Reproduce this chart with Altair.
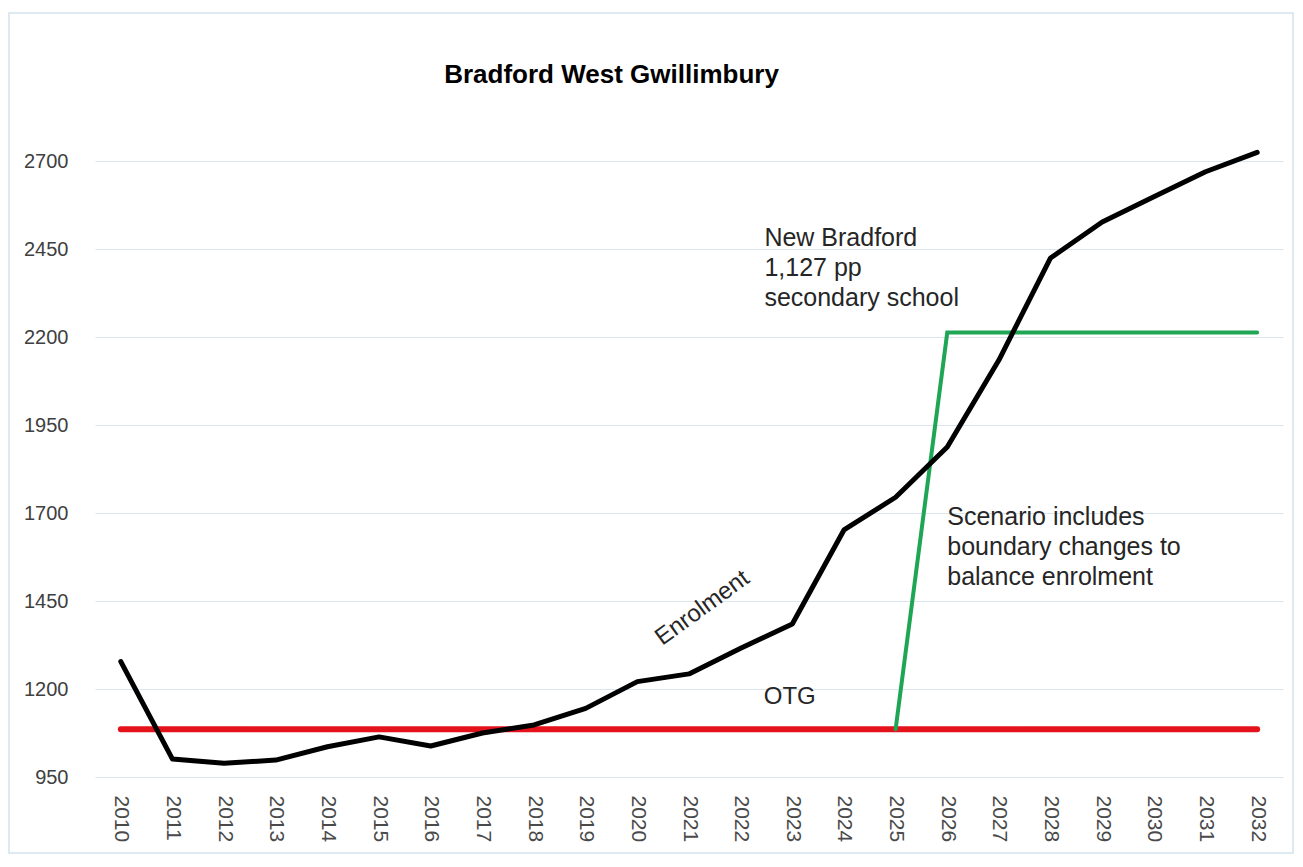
import altair as alt
import pandas as pd

# ---- data ----
years = [2010, 2011, 2012, 2013, 2014, 2015, 2016, 2017, 2018, 2019, 2020,
         2021, 2022, 2023, 2024, 2025, 2026, 2027, 2028, 2029, 2030, 2031, 2032]
enrolment = [1278, 1001, 989, 998, 1036, 1064, 1038, 1075, 1098, 1145, 1221,
             1243, 1316, 1385, 1652, 1745, 1888, 2135, 2425, 2527, 2599, 2670, 2725]
otg = [1086, 1086, 1086, 1086, 1086, 1086, 1086, 1086, 1086, 1086, 1086,
       1086, 1086, 1086, 1086, 1086, 1086, 1086, 1086, 1086, 1086, 1086, 1086]
scenario_years = [2025, 2026, 2027, 2028, 2029, 2030, 2031, 2032]
scenario_capacity = [1086, 2213, 2213, 2213, 2213, 2213, 2213, 2213]

y_ticks = [950, 1200, 1450, 1700, 1950, 2200, 2450, 2700]

title_text = "Bradford West Gwillimbury"
title_year = 2019.5
title_value = 2944

note_text = ["Enrolment", "OTG",
             "New Bradford", "1,127 pp", "secondary school",
             "Scenario includes", "boundary changes to", "balance enrolment"]
note_year = [2021.26, 2022.95, 2022.46, 2022.46, 2022.46, 2026.0, 2026.0, 2026.0]
note_value = [1430, 1177, 2481, 2396, 2311, 1689, 1603, 1518]
note_angle = [324, 0, 0, 0, 0, 0, 0, 0]
note_align = ["center", "center", "left", "left", "left", "left", "left", "left"]

FONT = "Liberation Sans"
W, H = 1188, 651

df_enr = pd.DataFrame({"year": years, "value": enrolment})
df_otg = pd.DataFrame({"year": years, "value": otg})
df_scn = pd.DataFrame({"year": scenario_years, "value": scenario_capacity})
df_notes = pd.DataFrame({"text": note_text, "year": note_year, "value": note_value,
                         "angle": note_angle, "align": note_align})
df_title = pd.DataFrame({"text": [title_text], "year": [title_year], "value": [title_value]})

x_scale = alt.Scale(domain=[2009.5, 2032.5], nice=False, zero=False)
y_scale = alt.Scale(domain=[950, 2800], nice=False, zero=False)

x_enc = alt.X("year:Q", scale=x_scale, title=None,
              axis=alt.Axis(values=years, format="d", labelAngle=90, grid=False,
                            ticks=False, domain=False, labelPadding=18,
                            labelFontSize=21, labelColor="#4a4a4a", labelFont=FONT,
                            labelAlign="left", labelBaseline="middle"))
y_enc = alt.Y("value:Q", scale=y_scale, title=None,
              axis=alt.Axis(values=y_ticks, format="d", grid=True, gridColor="#dbe5ee",
                            ticks=False, domain=False, labelPadding=27,
                            labelFontSize=20, labelColor="#404040", labelFont=FONT))

frame = alt.Chart(pd.DataFrame({"k": [0]})).mark_rect(
    fill="transparent", stroke="#d4e3ee", strokeWidth=1.5
).encode(x=alt.value(-86), x2=alt.value(W + 10), y=alt.value(-113), y2=alt.value(H + 76))

otg_line = alt.Chart(df_otg).mark_line(color="#e3121b", strokeWidth=6, strokeCap="round").encode(
    x=x_enc, y=y_enc)
scn_line = alt.Chart(df_scn).mark_line(color="#1fa654", strokeWidth=4, strokeCap="round").encode(
    x="year:Q", y="value:Q")
enr_line = alt.Chart(df_enr).mark_line(color="#000000", strokeWidth=5, strokeCap="round",
                                       strokeJoin="round").encode(
    x="year:Q", y="value:Q")

notes_center = alt.Chart(df_notes[df_notes["align"] == "center"]).mark_text(
    font=FONT, fontSize=24, color="#262626", align="center", baseline="middle"
).encode(x="year:Q", y="value:Q", text="text:N", angle=alt.Angle("angle:Q", scale=None))

notes_left = alt.Chart(df_notes[df_notes["align"] == "left"]).mark_text(
    font=FONT, fontSize=25, color="#262626", align="left", baseline="middle"
).encode(x="year:Q", y="value:Q", text="text:N")

title_mark = alt.Chart(df_title).mark_text(
    font=FONT, fontSize=26, fontWeight="bold", color="#000000", align="center",
    baseline="middle"
).encode(x="year:Q", y="value:Q", text="text:N")

chart = alt.layer(frame, otg_line, scn_line, enr_line, notes_center, notes_left,
                  title_mark).properties(
    width=W, height=H,
    background="white",
    autosize=alt.AutoSizeParams(type="none"),
    padding={"left": 87, "top": 118, "right": 12, "bottom": 80},
).configure_view(stroke=None)

chart.save("out.html", embed_options={"renderer": "svg", "actions": False})
